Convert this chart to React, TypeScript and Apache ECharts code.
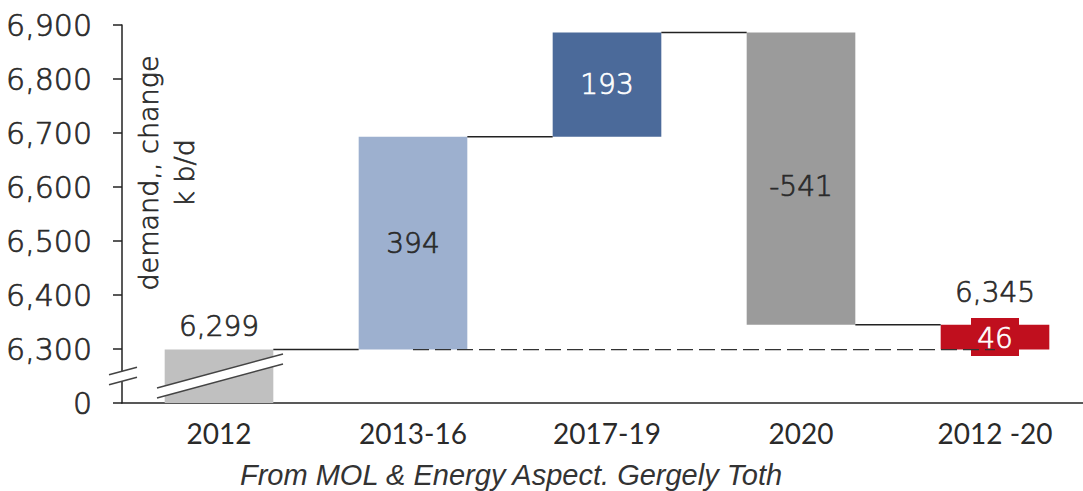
import React, { useEffect, useRef } from 'react';
import * as echarts from 'echarts';

// ---- data ----
const categories = ['2012', '2013-16', '2017-19', '2020', '2012 -20'];
const startValues = [0, 6299, 6693, 6886, 6299];
const endValues = [6299, 6693, 6886, 6345, 6345];
const barLabels = ['6,299', '394', '193', '-541', '46'];
const totalLabel = '6,345';
const yTickValues = [0, 6300, 6400, 6500, 6600, 6700, 6800, 6900];
const yTickLabels = ['0', '6,300', '6,400', '6,500', '6,600', '6,700', '6,800', '6,900'];

// axis is broken: everything below the break is drawn at the floor, which is labelled 0
const breakFloor = 6200;
const yMax = 6900;
const yStep = 100;

const barColors = ['#c0c0c0', '#9db0cf', '#4b6a9a', '#9b9b9b', '#c00f1e'];
const labelColors = ['#2a2a2a', '#2a2a2a', '#ffffff', '#2a2a2a', '#ffffff'];
const FONT = 'Lato, "Noto Sans", sans-serif';
const NUMFONT = '"DejaVu Sans", sans-serif';
const NUMWEIGHT = 300;
const TEXT = '#2a2a2a';
const THICK = 0.7;

const toAxis = (v: number) => Math.max(v, breakFloor);

export default function App() {
  const ref = useRef<HTMLDivElement>(null);

  useEffect(() => {
    if (!ref.current) return;
    const chart = echarts.init(ref.current, undefined, { renderer: 'svg' });

    const barData = categories.map((_, i) => [i, toAxis(startValues[i]), toAxis(endValues[i])]);
    const connectorData = categories.slice(0, -1).map((_, i) => [i, endValues[i]]);

    const option: any = {
      animation: false,
      grid: { left: 122, top: 25, width: 970, height: 378, outerBoundsMode: 'none', containLabel: false },
      xAxis: {
        type: 'category',
        data: categories,
        boundaryGap: true,
        axisLine: { lineStyle: { color: '#222', width: 1.5 } },
        axisTick: { show: false },
        axisLabel: { color: TEXT, fontSize: 28, fontFamily: FONT, margin: 16 },
        splitLine: { show: false },
      },
      yAxis: {
        type: 'value',
        min: breakFloor,
        max: yMax,
        interval: yStep,
        axisLine: { show: true, lineStyle: { color: '#222', width: 1.5 } },
        axisTick: { show: true, length: 9, lineStyle: { color: '#222', width: 1.5 } },
        axisLabel: {
          color: TEXT,
          fontSize: 30,
          fontFamily: NUMFONT,
          fontWeight: NUMWEIGHT,
          textBorderColor: TEXT,
          textBorderWidth: THICK,
          margin: 30,
          formatter: (v: number) => {
            const idx = yTickValues.indexOf(v === breakFloor ? 0 : v);
            return idx >= 0 ? yTickLabels[idx] : '';
          },
        },
        splitLine: { show: false },
      },
      series: [
        {
          type: 'custom',
          name: 'connectors',
          z: 3,
          data: connectorData,
          encode: { x: 0, y: 1 },
          renderItem: (params: any, api: any) => {
            const i = api.value(0);
            const v = api.value(1);
            const catW = api.size([1, 0])[0];
            const bw = catW * 0.56;
            const a = api.coord([i, v]);
            const b = api.coord([i + 1, v]);
            return {
              type: 'line',
              shape: { x1: a[0] + bw / 2, y1: a[1], x2: b[0] - bw / 2, y2: b[1] },
              style: { stroke: '#222', lineWidth: 1.5 },
            };
          },
        },
        {
          type: 'custom',
          name: 'baseline',
          z: 4,
          data: [[1, startValues[1], 4]],
          encode: { x: 0, y: 1 },
          renderItem: (params: any, api: any) => {
            const a = api.coord([api.value(0), api.value(1)]);
            const b = api.coord([api.value(2), api.value(1)]);
            return {
              type: 'line',
              shape: { x1: a[0], y1: a[1], x2: b[0], y2: b[1] },
              style: { stroke: '#333', lineWidth: 1.3, lineDash: [16, 6] },
            };
          },
        },
        {
          type: 'custom',
          name: 'bars',
          z: 2,
          data: barData,
          encode: { x: 0, y: [1, 2] },
          renderItem: (params: any, api: any) => {
            const i = api.value(0);
            const lo = Math.min(api.value(1), api.value(2));
            const hi = Math.max(api.value(1), api.value(2));
            const top = api.coord([i, hi]);
            const bot = api.coord([i, lo]);
            const catW = api.size([1, 0])[0];
            const bw = catW * 0.56;
            const cx = top[0];
            const h = bot[1] - top[1];
            const children: any[] = [
              {
                type: 'rect',
                shape: { x: cx - bw / 2, y: top[1], width: bw, height: h },
                style: { fill: barColors[i] },
              },
            ];
            const font = (size: number, color: string) => ({
              fontSize: size,
              fontFamily: NUMFONT,
              fontWeight: NUMWEIGHT,
              fill: color,
              stroke: color,
              lineWidth: THICK,
              align: 'center',
              verticalAlign: 'middle',
            });
            if (i === 0) {
              children.push({
                type: 'text',
                x: cx,
                y: top[1] - 23,
                style: { text: barLabels[i], ...font(28, labelColors[i]) },
              });
              const midY = (top[1] + bot[1]) / 2;
              const slope = -0.27;
              const mk = (x0: number, x1: number, off: number, c: number) => ({
                x1: x0, y1: midY + off + slope * (x0 - c), x2: x1, y2: midY + off + slope * (x1 - c),
              });
              const l1 = mk(cx - 62, cx + 64, -5, cx);
              const l2 = mk(cx - 62, cx + 64, 5, cx);
              children.push({
                type: 'polygon',
                shape: { points: [[l1.x1, l1.y1], [l1.x2, l1.y2], [l2.x2, l2.y2], [l2.x1, l2.y1]] },
                style: { fill: '#ffffff' },
              });
              children.push({ type: 'line', shape: l1, style: { stroke: '#444', lineWidth: 1.5 } });
              children.push({ type: 'line', shape: l2, style: { stroke: '#444', lineWidth: 1.5 } });
              const ax = cx - catW / 2;
              const s1 = mk(ax - 13, ax + 15, -5, ax);
              const s2 = mk(ax - 13, ax + 15, 5, ax);
              children.push({
                type: 'polygon',
                shape: { points: [[s1.x1, s1.y1], [s1.x2, s1.y2], [s2.x2, s2.y2], [s2.x1, s2.y1]] },
                style: { fill: '#ffffff' },
              });
              children.push({ type: 'line', shape: s1, style: { stroke: '#444', lineWidth: 1.5 } });
              children.push({ type: 'line', shape: s2, style: { stroke: '#444', lineWidth: 1.5 } });
            } else if (i === 4) {
              const cy = top[1] + h / 2;
              children.push({
                type: 'rect',
                z2: 5,
                shape: { x: cx - 24, y: cy - 19, width: 48, height: 38 },
                style: { fill: barColors[i] },
              });
              children.push({
                type: 'text',
                z2: 6,
                x: cx,
                y: cy + 1,
                style: { text: barLabels[i], ...font(28, labelColors[i]) },
              });
              children.push({
                type: 'text',
                x: cx,
                y: top[1] - 32,
                style: { text: totalLabel, ...font(28, TEXT) },
              });
            } else {
              children.push({
                type: 'text',
                x: cx,
                y: top[1] + h / 2 + (i === 3 ? 8 : 0),
                style: { text: barLabels[i], ...font(28, labelColors[i]) },
              });
            }
            return { type: 'group', children };
          },
        },
      ],
      graphic: [
        {
          type: 'text',
          left: 240,
          top: 460,
          style: {
            text: 'From MOL & Energy Aspect. Gergely Toth',
            fill: '#333',
            fontSize: 29,
            fontStyle: 'italic',
            fontFamily: '"Liberation Sans", Arial, sans-serif',
          },
        },
        {
          type: 'text',
          x: 166,
          y: 173,
          rotation: Math.PI / 2,
          z: 10,
          style: {
            text: 'demand,, change\nk b/d',
            fill: TEXT,
            stroke: TEXT,
            lineWidth: THICK,
            fontSize: 27,
            lineHeight: 36,
            fontFamily: NUMFONT,
            fontWeight: NUMWEIGHT,
            align: 'center',
            verticalAlign: 'middle',
          },
        },
      ],
    };

    chart.setOption(option);
    return () => chart.dispose();
  }, []);

  return (
    <div
      ref={ref}
      style={{ position: 'fixed', left: 0, top: 0, width: 1083, height: 491, background: '#fff' }}
    />
  );
}
